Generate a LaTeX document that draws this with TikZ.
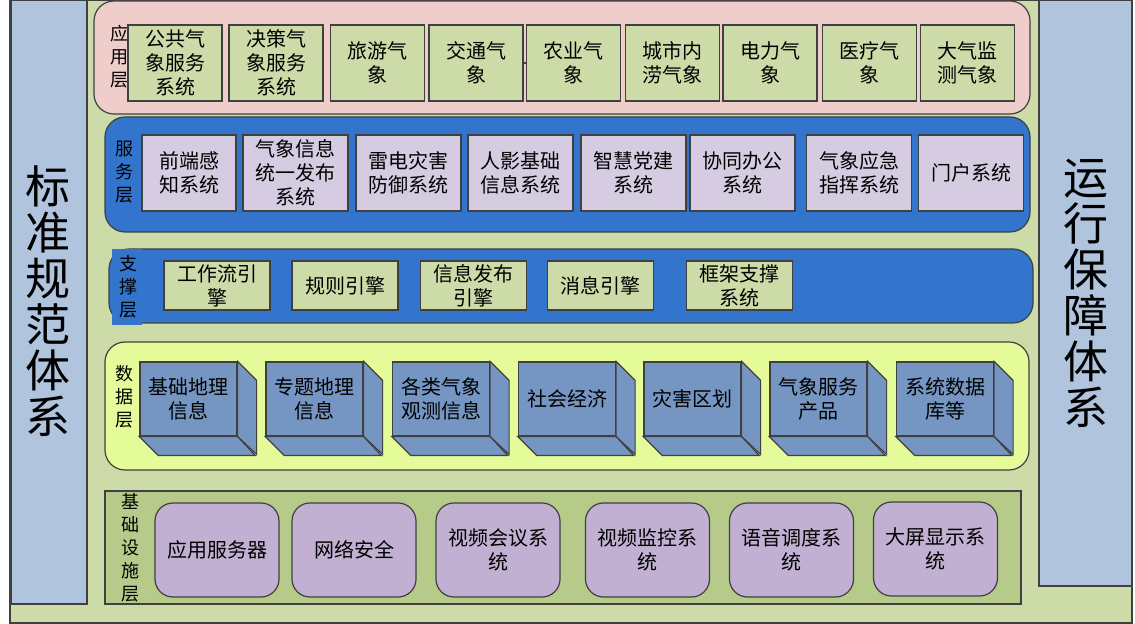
\documentclass[tikz,border=0pt]{standalone}
\usepackage{fontspec}
\setmainfont{Noto Sans CJK SC}
\definecolor{outerbg}{RGB}{205,219,169}
\definecolor{sidebar}{RGB}{176,196,222}
\definecolor{apppink}{RGB}{238,205,203}
\definecolor{layerblue}{RGB}{51,117,204}
\definecolor{datayellow}{RGB}{229,250,153}
\definecolor{infragreen}{RGB}{182,202,137}
\definecolor{boxgreen}{RGB}{205,219,169}
\definecolor{boxlilac}{RGB}{214,204,226}
\definecolor{cubeblue}{RGB}{117,149,194}
\definecolor{infralilac}{RGB}{193,176,210}
\definecolor{edgegray}{RGB}{64,64,64}

% side and bottom faces of a data block
\newcommand{\cubefaces}[1]{%
  \draw[cubeface] (#1.north east) -- ++(19,19) -- ++(0,74) -- (#1.south east) -- cycle;
  \draw[cubeface] (#1.south west) -- ++(19,19) -- ++(97,0) -- (#1.south east) -- cycle;}

\begin{document}
\begin{tikzpicture}[x=0.5pt,y=-0.5pt,
  every node/.style={font=\fontsize{10}{12}\selectfont, align=center, inner sep=1pt},
  edge/.style={draw=edgegray, line width=0.6pt},
  layer/.style={edge, rounded corners=10pt},
  tag/.style={font=\fontsize{9}{11.5}\selectfont},
  bigtag/.style={font=\fontsize{22.5}{23}\selectfont},
  appbox/.style={edge, fill=boxgreen, minimum width=47pt, minimum height=38pt},
  svcbox/.style={edge, fill=boxlilac, minimum width=52.5pt, minimum height=38pt},
  supbox/.style={edge, fill=boxgreen, minimum width=53pt, minimum height=24.5pt},
  cubefront/.style={edge, fill=cubeblue, minimum width=48.5pt, minimum height=37pt},
  cubeface/.style={edge, fill=cubeblue},
  infrabox/.style={edge, fill=infralilac, rounded corners=9pt, minimum width=62pt, minimum height=47pt}]
\useasboundingbox (0,0) rectangle (1135,624);

% frame and the two side bars
\draw[edge, fill=outerbg] (10,0) rectangle (1132,623);
\draw[edge, fill=sidebar] (11,0) rectangle (87,604);
\draw[edge, fill=sidebar] (1039,0) rectangle (1132,586);
\node[bigtag] (std) at (48,301) {标\\准\\规\\范\\体\\系};
\node[bigtag] (ops) at (1086,293) {运\\行\\保\\障\\体\\系};

% application layer
\draw[layer, fill=apppink] (94,1) rectangle (1030,114);
\node[tag] (applbl) at (119,57) {应\\用\\层};
\node[appbox] (app1) at (175,63) {公共气\\象服务\\系统};
\node[appbox] (app2) at (276,63) {决策气\\象服务\\系统};
\node[appbox] (app3) at (377.5,63) {旅游气\\象};
\node[appbox] (app4) at (476,63) {交通气\\象};
\node[appbox] (app5) at (573.5,63) {农业气\\象};
\node[appbox] (app6) at (672.5,63) {城市内\\涝气象};
\node[appbox] (app7) at (770,63) {电力气\\象};
\node[appbox] (app8) at (869.5,63) {医疗气\\象};
\node[appbox] (app9) at (967.5,63) {大气监\\测气象};
\draw[edge] (app4.east) -- (app5.west);

% service layer
\draw[layer, fill=layerblue] (105,117) rectangle (1030,232);
\node[tag] (svclbl) at (124,172) {服\\务\\层};
\node[svcbox, minimum width=47pt] (svc1) at (189,173) {前端感\\知系统};
\node[svcbox] (svc2) at (295.5,173) {气象信息\\统一发布\\系统};
\node[svcbox] (svc3) at (408.5,173) {雷电灾害\\防御系统};
\node[svcbox] (svc4) at (520.5,173) {人影基础\\信息系统};
\node[svcbox] (svc5) at (633.5,173) {智慧党建\\系统};
\node[svcbox] (svc6) at (742.5,173) {协同办公\\系统};
\node[svcbox] (svc7) at (859,173) {气象应急\\指挥系统};
\node[svcbox] (svc8) at (971,173) {门户系统};

% support layer
\draw[layer, fill=layerblue] (109,249) rectangle (1033,323);
\fill[layerblue] (112,249) rectangle (142,325);
\node[tag] (suplbl) at (128,287) {支\\撑\\层};
\node[supbox] (sup1) at (217,285.5) {工作流引\\擎};
\node[supbox] (sup2) at (345,285.5) {规则引擎};
\node[supbox] (sup3) at (473.5,285.5) {信息发布\\引擎};
\node[supbox] (sup4) at (600.5,285.5) {消息引擎};
\node[supbox] (sup5) at (739.5,285.5) {框架支撑\\系统};

% data layer
\draw[layer, fill=datayellow] (105,342) rectangle (1029,470);
\node[tag] (datlbl) at (124,397) {数\\据\\层};
\node[cubefront] (dat1) at (188.5,399) {基础地理\\信息};
\node[cubefront] (dat2) at (314.5,399) {专题地理\\信息};
\node[cubefront] (dat3) at (441,399) {各类气象\\观测信息};
\node[cubefront] (dat4) at (567,399) {社会经济};
\node[cubefront] (dat5) at (692.5,399) {灾害区划};
\node[cubefront] (dat6) at (818.5,399) {气象服务\\产品};
\node[cubefront] (dat7) at (945,399) {系统数据\\库等};
\cubefaces{dat1}
\cubefaces{dat2}
\cubefaces{dat3}
\cubefaces{dat4}
\cubefaces{dat5}
\cubefaces{dat6}
\cubefaces{dat7}

% infrastructure layer
\draw[edge, fill=infragreen] (105,491) rectangle (1021,604);
\node[tag] (inflbl) at (130,548) {基\\础\\设\\施\\层};
\node[infrabox] (inf1) at (217,550) {应用服务器};
\node[infrabox] (inf2) at (354,550) {网络安全};
\node[infrabox] (inf3) at (498,550) {视频会议系\\统};
\node[infrabox] (inf4) at (647.5,550) {视频监控系\\统};
\node[infrabox] (inf5) at (791.5,550) {语音调度系\\统};
\node[infrabox] (inf6) at (935.5,549) {大屏显示系\\统};
\end{tikzpicture}
\end{document}
